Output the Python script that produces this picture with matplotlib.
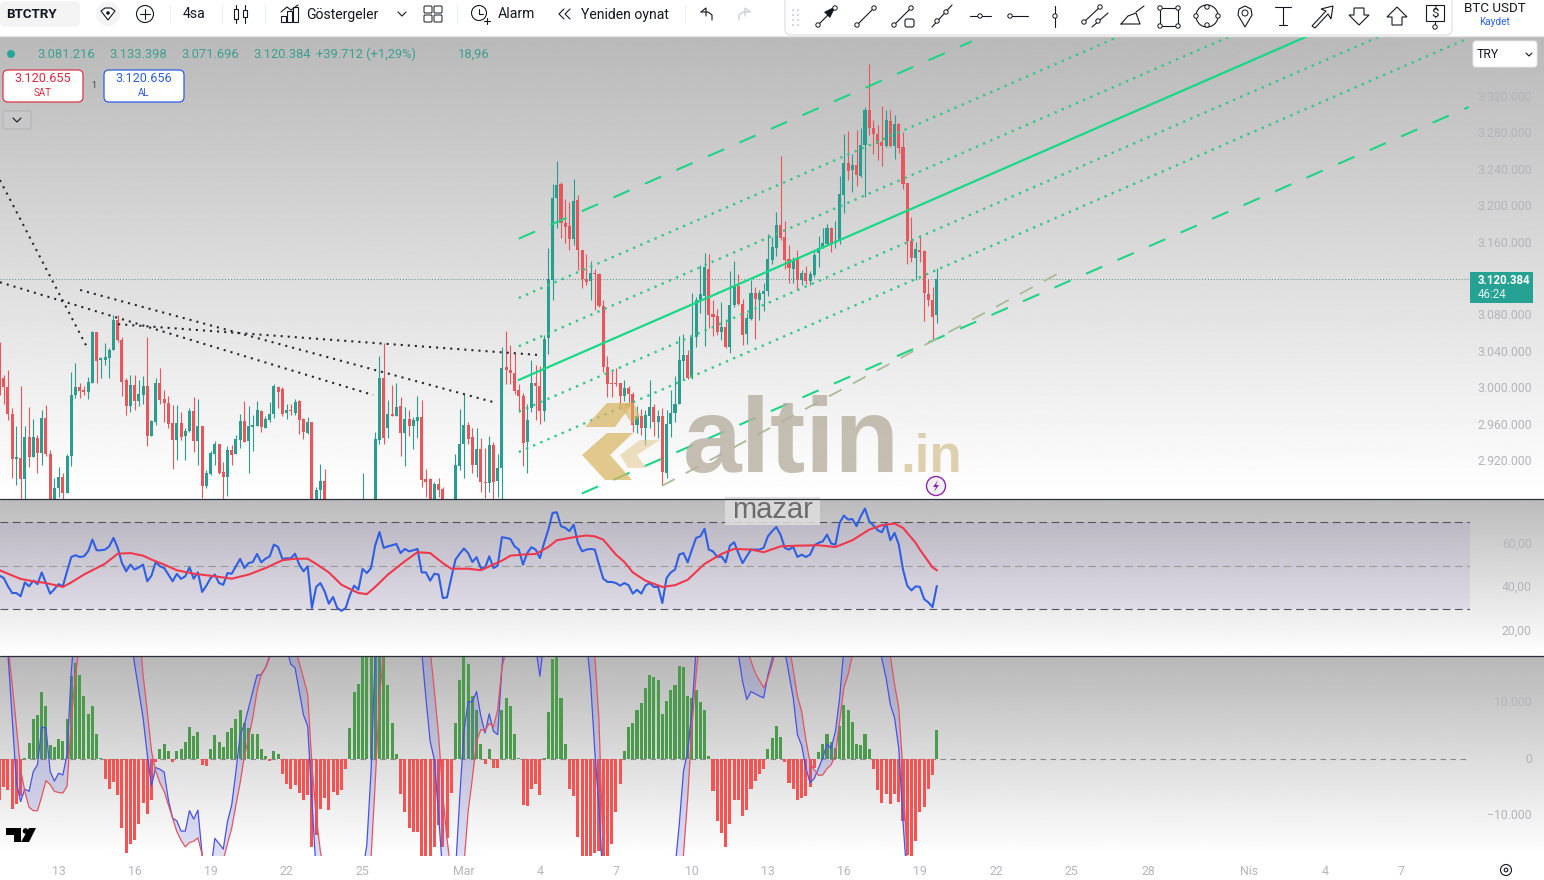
"""
BTCTRY 4h screenshot: candles with channel drawings, RSI pane and MACD pane.
"""
from matplotlib import pyplot as plt
from matplotlib.patches import Circle, FancyBboxPatch, Polygon, Rectangle
import numpy as np

plt.rcParams['font.family'] = ['Roboto', 'DejaVu Sans']

# prices in thousand TRY, one value per bar
candle_open = [
    3023, 3012, 3002, 2973, 2923, 2924, 2901, 2947, 2925, 2946,
    2930, 2968, 2929, 2871, 2891, 2903, 2886, 2926, 2993, 3002,
    2999, 2997, 3007, 3062, 3032, 3032, 3034, 3043, 3076, 3054,
    3010, 2981, 3004, 2987, 2993, 3003, 2948, 2964, 3007, 2989,
    2985, 2963, 2944, 2963, 2948, 2954, 2976, 2943, 2959, 2894,
    2907, 2929, 2940, 2909, 2904, 2933, 2929, 2944, 2965, 2943,
    2958, 2959, 2976, 2957, 2966, 2973, 3002, 3000, 2974, 2977,
    2974, 2987, 2967, 2952, 2964, 2871, 2889, 2899, 2876, 2855,
    2860, 2852, 2845, 2850, 2862, 2850, 2855, 2870, 2862, 2868,
    2944, 3012, 2957, 2973, 2970, 2981, 2952, 2967, 2959, 2965,
    2969, 2901, 2901, 2870, 2896, 2890, 2872, 2860, 2868, 2916,
    2940, 2960, 2947, 2917, 2934, 2898, 2897, 2939, 2899, 2913,
    3024, 3021, 3018, 2999, 2992, 2942, 2979, 3006, 3003, 2976,
    3056, 3119, 3209, 3225, 3182, 3179, 3164, 3207, 3152, 3121,
    3118, 3127, 3126, 3091, 3024, 3006, 3006, 3006, 2992, 3001,
    2994, 2961, 2970, 2957, 2970, 2980, 2964, 2970, 2908, 2962,
    2974, 2984, 3031, 3037, 3012, 3057, 3098, 3102, 3132, 3082,
    3080, 3062, 3068, 3046, 3092, 3113, 3093, 3060, 3077, 3105,
    3098, 3104, 3107, 3141, 3155, 3180, 3167, 3142, 3132, 3142,
    3119, 3127, 3118, 3125, 3149, 3155, 3159, 3176, 3160, 3162,
    3213, 3248, 3240, 3246, 3233, 3267, 3306, 3286, 3280, 3271,
    3266, 3294, 3266, 3290, 3265, 3226, 3162, 3144, 3152, 3151,
    3104, 3097, 3081,
]
candle_high = [
    3052, 3015, 3021, 2979, 2959, 3003, 2959, 2980, 2967, 2950,
    2977, 2982, 2933, 2902, 2914, 2908, 2929, 3019, 3029, 3007,
    3003, 3013, 3063, 3062, 3035, 3050, 3045, 3081, 3081, 3057,
    3012, 3015, 3015, 3010, 3014, 3057, 2966, 3012, 3023, 2999,
    2992, 2982, 2982, 2975, 2957, 2979, 2991, 2989, 2959, 2911,
    2932, 2943, 2940, 2920, 2938, 2939, 2950, 2973, 2987, 2981,
    2971, 2987, 2977, 2970, 2986, 3005, 3003, 3002, 2984, 2984,
    2989, 2988, 2968, 2969, 2964, 2893, 2918, 2912, 2877, 2868,
    2874, 2865, 2858, 2870, 2875, 2868, 2908, 2876, 2875, 2953,
    3036, 3050, 2988, 3004, 3007, 2991, 2980, 2977, 2969, 2992,
    2988, 2912, 2902, 2898, 2902, 2893, 2876, 2875, 2929, 2978,
    2994, 2964, 2957, 2957, 2946, 2935, 2948, 2942, 2929, 3046,
    3063, 3048, 3039, 3006, 2996, 2983, 3032, 3026, 3025, 3059,
    3154, 3225, 3250, 3227, 3208, 3205, 3230, 3213, 3152, 3148,
    3140, 3132, 3127, 3098, 3036, 3021, 3023, 3006, 3010, 3003,
    2997, 2981, 2978, 2977, 3010, 2984, 2977, 2979, 2977, 2999,
    3014, 3058, 3060, 3043, 3105, 3101, 3136, 3149, 3148, 3098,
    3088, 3095, 3074, 3129, 3140, 3126, 3099, 3083, 3119, 3112,
    3108, 3116, 3170, 3167, 3194, 3255, 3184, 3158, 3145, 3152,
    3130, 3135, 3129, 3150, 3168, 3176, 3181, 3177, 3184, 3233,
    3280, 3283, 3258, 3284, 3286, 3309, 3356, 3295, 3289, 3310,
    3306, 3306, 3300, 3292, 3282, 3226, 3189, 3161, 3169, 3152,
    3120, 3112, 3133,
]
candle_low = [
    2993, 2984, 2966, 2902, 2895, 2878, 2878, 2914, 2925, 2908,
    2917, 2926, 2871, 2864, 2882, 2878, 2886, 2916, 2990, 2990,
    2993, 2989, 3007, 3007, 3012, 3026, 3012, 3043, 3052, 2992,
    2971, 2975, 2977, 2981, 2984, 2937, 2948, 2960, 2984, 2964,
    2957, 2912, 2922, 2944, 2922, 2953, 2931, 2917, 2881, 2891,
    2906, 2917, 2907, 2878, 2883, 2917, 2929, 2935, 2942, 2908,
    2932, 2959, 2953, 2957, 2964, 2968, 2979, 2970, 2967, 2971,
    2971, 2951, 2945, 2951, 2871, 2864, 2878, 2864, 2850, 2845,
    2848, 2838, 2835, 2840, 2845, 2842, 2850, 2855, 2850, 2860,
    2940, 2940, 2946, 2970, 2970, 2927, 2916, 2948, 2934, 2946,
    2893, 2882, 2871, 2860, 2882, 2860, 2850, 2845, 2860, 2911,
    2902, 2940, 2908, 2904, 2887, 2880, 2887, 2878, 2882, 2878,
    3006, 3006, 2994, 2975, 2916, 2908, 2975, 2966, 2962, 2965,
    3038, 3098, 3176, 3166, 3160, 3152, 3158, 3130, 3111, 3114,
    3097, 3087, 3090, 3019, 2991, 2991, 3003, 2978, 2987, 2981,
    2953, 2952, 2950, 2939, 2957, 2948, 2946, 2895, 2902, 2947,
    2964, 2984, 3010, 3011, 3011, 3046, 3083, 3047, 3067, 3058,
    3059, 3054, 3045, 3039, 3090, 3092, 3048, 3049, 3076, 3055,
    3076, 3086, 3102, 3137, 3146, 3163, 3132, 3116, 3116, 3108,
    3114, 3115, 3114, 3123, 3134, 3154, 3158, 3150, 3154, 3159,
    3193, 3229, 3216, 3222, 3232, 3210, 3278, 3258, 3251, 3244,
    3265, 3265, 3252, 3259, 3219, 3137, 3139, 3119, 3139, 3074,
    3091, 3054, 3072,
]
candle_close = [
    3012, 3002, 2973, 2923, 2925, 2901, 2947, 2925, 2947, 2930,
    2968, 2929, 2878, 2891, 2903, 2886, 2926, 2993, 3002, 2998,
    2997, 3008, 3062, 3031, 3034, 3035, 3043, 3076, 3054, 3008,
    2981, 3004, 2987, 2994, 3003, 2948, 2965, 3007, 2988, 2985,
    2962, 2944, 2963, 2947, 2954, 2976, 2943, 2959, 2894, 2908,
    2930, 2940, 2908, 2904, 2933, 2928, 2945, 2965, 2942, 2959,
    2960, 2977, 2958, 2967, 2973, 3003, 2997, 2973, 2977, 2976,
    2986, 2966, 2953, 2964, 2875, 2889, 2899, 2878, 2855, 2860,
    2852, 2845, 2850, 2862, 2850, 2860, 2870, 2862, 2868, 2945,
    3012, 2946, 2973, 2970, 2980, 2952, 2967, 2959, 2966, 2969,
    2900, 2898, 2875, 2896, 2889, 2872, 2860, 2868, 2917, 2940,
    2960, 2945, 2917, 2934, 2898, 2897, 2939, 2898, 2913, 3023,
    3021, 3018, 2998, 2992, 2941, 2966, 3006, 3003, 2976, 3055,
    3120, 3209, 3224, 3182, 3178, 3164, 3206, 3152, 3120, 3117,
    3127, 3126, 3091, 3024, 3006, 3005, 3005, 2992, 3001, 2994,
    2961, 2970, 2957, 2972, 2980, 2964, 2970, 2909, 2962, 2974,
    2984, 3032, 3037, 3012, 3057, 3098, 3104, 3134, 3081, 3079,
    3062, 3068, 3046, 3092, 3114, 3093, 3059, 3078, 3105, 3099,
    3105, 3107, 3142, 3156, 3180, 3166, 3141, 3133, 3141, 3119,
    3127, 3118, 3126, 3147, 3155, 3160, 3176, 3159, 3162, 3214,
    3248, 3239, 3246, 3234, 3267, 3306, 3286, 3279, 3269, 3266,
    3295, 3266, 3290, 3264, 3225, 3162, 3144, 3153, 3150, 3105,
    3097, 3079, 3120,
]
rsi_values = [
    45.4, 44.3, 40.5, 37.4, 37.4, 35.9, 42.3, 40.5, 43.1, 41.5,
    46.9, 42.0, 37.1, 39.2, 41.5, 40.5, 47.4, 54.0, 54.8, 54.0,
    54.3, 56.6, 62.0, 57.1, 57.1, 57.4, 58.9, 62.8, 58.2, 51.2,
    47.4, 50.5, 48.2, 49.2, 50.5, 42.8, 45.4, 51.7, 49.7, 48.9,
    45.9, 42.8, 46.2, 43.9, 45.1, 49.2, 44.0, 46.9, 37.9, 40.8,
    44.3, 45.9, 42.0, 41.2, 46.6, 46.3, 49.7, 53.1, 48.9, 51.2,
    51.7, 55.4, 51.5, 53.2, 54.3, 59.7, 58.6, 53.1, 53.4, 53.4,
    55.5, 50.5, 47.4, 49.7, 30.5, 40.2, 42.0, 38.2, 32.5, 35.6,
    30.5, 29.2, 30.5, 36.6, 40.8, 38.9, 48.5, 46.6, 48.9, 59.4,
    65.5, 58.2, 58.9, 59.4, 60.0, 55.8, 57.7, 56.6, 57.1, 57.7,
    46.9, 46.9, 43.1, 46.3, 45.9, 35.1, 35.4, 44.3, 52.8, 55.5,
    57.9, 55.8, 51.7, 53.9, 48.9, 48.9, 54.3, 48.9, 50.0, 63.1,
    62.8, 62.3, 58.9, 57.4, 50.5, 55.8, 58.5, 57.4, 53.5, 60.5,
    66.6, 74.3, 74.6, 68.2, 67.4, 65.9, 68.9, 60.5, 56.6, 57.4,
    57.7, 57.4, 50.5, 44.0, 42.5, 42.5, 42.0, 40.8, 42.0, 41.0,
    37.1, 38.9, 37.1, 40.8, 42.0, 40.2, 40.2, 32.8, 44.3, 46.9,
    48.2, 55.1, 55.8, 51.5, 57.4, 62.8, 63.5, 67.0, 57.4, 56.6,
    54.0, 54.3, 51.5, 59.2, 60.8, 55.8, 51.2, 54.3, 57.4, 57.4,
    57.4, 58.2, 63.5, 65.9, 67.8, 64.3, 58.2, 57.4, 58.6, 54.0,
    55.1, 54.0, 55.1, 59.4, 60.5, 61.2, 64.3, 60.2, 59.7, 69.7,
    73.1, 71.2, 71.5, 68.2, 72.8, 76.3, 70.5, 68.5, 66.3, 65.4,
    69.4, 61.7, 65.1, 59.7, 48.2, 40.8, 38.6, 40.5, 40.2, 34.6,
    33.1, 30.9, 40.5,
]
rsi_ma_bars = [
    1, 3, 6, 9, 12, 16, 18, 21, 24, 26, 29, 32, 35, 37, 40, 43, 47, 52, 56, 60,
    64, 68, 71, 74, 76, 79, 82, 86, 88, 90, 93, 97, 100, 103, 106, 108, 112, 115,
    120, 122, 125, 128, 131, 133, 137, 140, 142, 144, 147, 149, 151, 154, 158,
    161, 164, 168, 172, 175, 179, 182, 186, 190, 195, 199, 203, 207, 210, 213,
    215, 218, 219, 222, 223,
]
rsi_ma_values = [
    47.9, 46.3, 43.9, 42.8, 42.0, 40.2, 42.3, 45.9, 48.9, 50.9, 55.5, 55.8, 54.6,
    52.8, 50.5, 47.9, 46.3, 45.1, 44.0, 45.9, 48.9, 52.5, 53.2, 53.2, 50.8, 46.9,
    41.2, 37.4, 36.9, 40.2, 45.9, 52.0, 56.2, 55.8, 51.2, 48.6, 48.6, 47.9, 52.3,
    54.6, 55.1, 55.4, 58.6, 61.7, 63.1, 63.9, 63.5, 62.0, 55.1, 51.7, 46.9, 43.1,
    40.2, 41.0, 43.5, 50.8, 55.4, 57.7, 57.4, 56.2, 58.9, 59.2, 59.4, 58.6, 61.7,
    66.6, 68.6, 69.4, 67.4, 60.5, 57.4, 49.2, 47.9,
]
hist_values = [
    -7200, -5000, -5500, -8800, -7900, -6600, 100, 2800, 7100, 7800,
    11800, 9300, 2500, 2100, 3600, 3200, 7100, 14600, 16900, 14900,
    11200, 8000, 9300, 4500, 100, -3500, -5300, -4000, -6300, -12100,
    -16500, -15000, -14300, -11400, -7700, -9700, -7200, -500, 1700, 2700,
    1500, -500, 1500, 1700, 3000, 5700, 4100, 4800, -1000, -1300,
    1700, 4300, 3000, 2200, 4800, 5500, 7000, 8700, 6300, 5500,
    4500, 4500, 1700, 500, -400, 1500, 900, -2600, -4400, -5300,
    -4500, -5900, -7300, -6300, -15600, -13400, -8800, -6900, -9000, -5800,
    -6300, -5400, -1700, 5400, 11800, 13200, 19000, 19500, 18000, 20000,
    19000, 19000, 13000, 6300, 900, -6200, -9400, -12100, -12800, -12800,
    -18000, -18500, -18000, -15500, -11600, -15500, -14000, -5900, 6300, 14000,
    19000, 16700, 11100, 8600, 2700, -800, 1700, -1500, -1500, 8600,
    10800, 9400, 4500, 100, -8100, -8300, -5300, -4400, -6400, 100,
    8300, 17600, 19000, 10700, 2700, -5300, -6600, -13700, -18000, -18500,
    -18500, -16500, -16200, -18000, -18000, -15000, -9300, -4400, 1500, 5700,
    6300, 8700, 9900, 12600, 14900, 14500, 14000, 8000, 10300, 12100,
    13000, 16400, 16200, 11200, 10800, 12200, 10100, 8700, 500, -5700,
    -10900, -13000, -15500, -11400, -7200, -7200, -10000, -9000, -5300, -3800,
    -2600, -1700, 1800, 3700, 5900, 3900, -500, -4200, -5300, -7300,
    -6900, -6600, -5000, -1600, 1200, 2700, 4400, 3000, 1900, 5900,
    9600, 8600, 6500, 2700, 2500, 4500, 1700, -1800, -5400, -7700,
    -6100, -7900, -6200, -7600, -11000, -17000, -18000, -14400, -9400, -8400,
    -5300, -2800, 5200,
]
macd_bars = [
    1, 3, 4, 5, 6, 7, 8, 9, 10, 11, 12, 13, 14, 15, 16, 17, 18, 19, 25, 31, 32, 33,
    34, 35, 36, 37, 38, 39, 40, 41, 42, 43, 44, 45, 46, 47, 48, 49, 50, 51, 52, 53,
    54, 55, 56, 57, 58, 59, 60, 61, 62, 63, 64, 65, 66, 68, 69, 70, 71, 72, 73, 74,
    75, 76, 77, 84, 86, 87, 88, 89, 90, 91, 98, 100, 101, 102, 103, 104, 105, 106,
    108, 109, 110, 111, 112, 113, 114, 115, 116, 117, 118, 119, 120, 121, 122, 126,
    128, 129, 130, 131, 136, 140, 141, 142, 143, 144, 146, 155, 160, 161, 162, 163,
    164, 165, 166, 167, 170, 175, 176, 177, 178, 179, 180, 181, 182, 183, 184, 185,
    186, 187, 188, 189, 190, 191, 192, 193, 194, 195, 196, 197, 198, 199, 200, 201,
    202, 208, 210, 211, 212, 213, 214, 215, 216, 217, 223,
]
macd_values = [
    30300, 18500, 7300, -4200, -7500, -5300, -5700, -2200, -1000, 5600, 5500, -2200,
    -3900, -2500, -2800, 800, 15500, 24400, 42000, 27300, 22000, 16700, 12000, 7300,
    800, -4700, -1500, -1800, -2300, -7200, -10400, -10900, -12700, -12700, -9100,
    -10600, -9000, -16900, -19900, -19900, -14000, -14900, -15900, -11000, -8100,
    -2200, 4300, 6100, 9000, 12000, 14800, 14900, 16100, 18200, 22000, 24400, 19600,
    16700, 16100, 12000, 7800, 5800, -7500, -19900, -28700, -34600, -28700, -19900,
    -15200, -2200, 18500, 30300, 48000, 24400, 19000, 10800, 3100, -100, -9900, -20500,
    -28700, -19900, -6900, 4900, 10100, 10100, 11900, 7600, 4600, 8000, 4900, 4300,
    16100, 24400, 33200, 36200, 19600, 14600, 21400, 33200, 36200, 21000, 13700, 1400,
    -8700, -22800, -34600, -46400, -31700, -19300, -11600, -2200, 1400, 8400, 19600,
    27300, 33200, 27300, 18500, 13700, 10500, 11900, 11500, 11100, 10800, 14800, 17600,
    21400, 20800, 19100, 14900, 10800, 4300, 2400, -1600, -4200, -3400, -1600, 200,
    2700, 1900, 4900, 10800, 19600, 24400, 36200, 17600, 14300, 9600, 7300, 1900,
    -11000, -21600, -34600, -40000,
]
signal_bars = [
    1, 3, 4, 5, 6, 7, 8, 9, 10, 11, 12, 13, 14, 15, 16, 17, 18, 19, 20, 25, 33, 35,
    36, 37, 38, 39, 40, 41, 42, 43, 44, 45, 46, 47, 48, 49, 50, 53, 54, 55, 56, 57,
    58, 59, 60, 61, 62, 63, 64, 65, 66, 70, 71, 72, 73, 74, 75, 76, 77, 78, 80, 86,
    88, 89, 90, 91, 92, 93, 100, 102, 103, 104, 105, 106, 107, 108, 110, 111, 112,
    113, 114, 115, 116, 117, 118, 119, 120, 121, 125, 140, 142, 143, 144, 146, 155,
    160, 163, 164, 165, 166, 167, 170, 176, 178, 179, 180, 182, 183, 184, 185, 187,
    189, 190, 191, 192, 193, 194, 195, 196, 197, 198, 199, 200, 201, 202, 203, 205,
    210, 212, 213, 214, 215, 216, 217, 223,
]
signal_values = [
    36200, 20200, 13200, 5800, -1900, -5700, -8500, -9100, -9100, -6600, -3800, -4500,
    -5700, -5900, -6000, -4800, 6700, 14900, 20200, 48000, 33200, 14900, 8400, 1400,
    -2100, -4200, -5700, -8100, -10400, -12800, -14300, -15500, -14700, -14500, -13900,
    -16900, -19600, -21700, -17800, -14900, -12200, -8100, -4200, 500, 3700, 7300,
    12000, 14900, 16100, 17900, 21400, 22000, 19600, 17000, 14300, 11400, -1000, -9900,
    -16300, -19900, -31700, -40500, -25800, -17500, -4000, 10800, 19100, 30300, 42000,
    20200, 19400, 12000, 4300, -6300, -14000, -20500, -25800, -18700, -9300, -3400,
    3100, 5200, 5000, 6300, 5700, 8700, 16100, 19100, 36200, 36200, 18500, 6700, -16900,
    -34600, -46400, -34600, -16900, -6900, 5500, 14900, 22000, 36200, 30300, 19600,
    17300, 15200, 12600, 14300, 16700, 19600, 24400, 15800, 11100, 8400, 3400, -700,
    -1900, -2900, -2800, -1700, -1000, 800, 6700, 12600, 14900, 18200, 24400, 30300,
    18200, 13200, 9000, -2200, -18100, -34600, -40500,
]

# bar number of each time label on the bottom axis
time_tick_bars = [15, 33, 51, 69, 87, 111, 129, 147, 165, 183, 201, 219, 237, 255, 273, 297, 315, 333]
time_tick_labels = ['13', '16', '19', '22', '25', 'Mar', '4', '7', '10', '13', '16', '19', '22', '25', '28', 'Nis', '4', '7']
# 3.120.000 sits under the last price tag in the screenshot
price_ticks = [2920, 2960, 3000, 3040, 3080, 3160, 3200, 3240, 3280, 3320]
rsi_ticks = [20, 40, 60]
macd_ticks = [-10000, 0, 10000]
last_price = 3120.384

# channel drawings: bar 124 to bar 349, price at the left end and the right end
channel_start_bar = 124
channel_end_bar = 349
channel_upper = (3164.8, 3618.6)
channel_inner_up = (3099.7, 3553.5)
channel_mid_up = (3046.8, 3500.6)
channel_median = (3009.9, 3463.7)
channel_mid_down = (2975.2, 3429.0)
channel_inner_down = (2930.9, 3384.7)
channel_lower = (2855.3, 3309.1)

TEAL = '#2a9d8f'
RED = '#e8555a'
INK = '#131722'
AXIS_TEXT = '#b4b4ba'


def pane(top, bottom):
    ax = fig.add_axes([0, 1 - bottom / 880, 1470 / 1544, (bottom - top) / 880])
    ax.patch.set_alpha(0)
    ax.set_xlim(1.118, 349.3)
    for side in ax.spines.values():
        side.set_visible(False)
    ax.tick_params(axis='y', left=False, labelleft=False, right=True, labelright=True,
                   length=0, pad=44.5, labelcolor=AXIS_TEXT, labelsize=8.8)
    ax.tick_params(axis='x', length=0, labelbottom=False)
    return ax


def right_align(ax):
    for tick_label in ax.get_yticklabels():
        tick_label.set_ha('right')
        tick_label.set_va('center')


def dotted(value):
    return f'{value:,.0f}'.replace(',', '.')


fig = plt.figure(figsize=(15.44, 8.8), dpi=100, facecolor='white')

# screenshot background gradients
bg = fig.add_axes([0, 0, 1, 1], zorder=-1)
for top, bottom, shade in [(37, 495, 185), (499, 656, 187), (657, 855, 184)]:
    ramp = np.linspace(shade, 255, 256)[:, None]
    bg.imshow(ramp, extent=[0, 1544, bottom, top], cmap='gray', vmin=0, vmax=255, aspect='auto')
bg.set_xlim(0, 1544)
bg.set_ylim(880, 0)
bg.axis('off')

# price pane
bars = np.arange(1, len(candle_open) + 1)
opens, highs, lows, closes = map(np.array, (candle_open, candle_high, candle_low, candle_close))
ax_price = pane(37, 499)
colors = np.where(closes >= opens, TEAL, RED)
ax_price.vlines(bars, lows, highs, colors=colors, lw=0.8, zorder=2)
ax_price.bar(bars, np.maximum(np.abs(closes - opens), 1), bottom=np.minimum(opens, closes),
             width=0.72, color=colors, zorder=3)
ax_price.axhline(last_price, color='#4d8f85', lw=0.7, ls=(0, (1, 2)), zorder=1)

channel_x = [channel_start_bar, channel_end_bar]
for ends in (channel_inner_up, channel_mid_up, channel_mid_down, channel_inner_down):
    ax_price.plot(channel_x, ends, color='#33c888', lw=1.7, ls=(0, (1, 2.3)), zorder=4)
ax_price.plot(channel_x, channel_median, color='#17d985', lw=1.6, zorder=4)
ax_price.plot(channel_x, channel_lower, color='#1fd485', lw=1.5, ls=(0, (8.5, 8)), zorder=4)
ax_price.plot([channel_start_bar, 231.3], [channel_upper[0], 3381], color='#1fd485', lw=1.5,
              ls=(0, (8.5, 8)), zorder=4)
ax_price.plot([157.9, 251.5], [2893.7, 3126], color='#a9bb97', lw=1.3, ls=(0, (8, 7)), zorder=4)

for line_x, line_y in [([1.1, 21.7], [3229, 3046]), ([1.1, 89.5], [3117, 2993.4]),
                       ([20.1, 117.9], [3108.5, 2985.7]), ([29.1, 128.5], [3071, 3037.3])]:
    ax_price.plot(line_x, line_y, color='#26282e', lw=1.5, ls=(0, (1, 2.4)), zorder=4)

ax_price.set_ylim(2879.4, 3385.8)
ax_price.set_yticks(price_ticks, [dotted(p * 1000) for p in price_ticks])
right_align(ax_price)

# RSI pane
ax_rsi = pane(499, 656)
ax_rsi.axhspan(30, 70, color='#7e57c2', alpha=0.1, lw=0, zorder=1)
ax_rsi.axhline(70, color='#555555', lw=0.8, ls=(0, (7, 4)), zorder=2)
ax_rsi.axhline(50, color='#999999', lw=0.8, ls=(0, (7, 4)), zorder=2)
ax_rsi.axhline(30, color='#555555', lw=0.8, ls=(0, (7, 4)), zorder=2)
ax_rsi.plot(bars, rsi_values, color='#2f5fe3', lw=1.5, zorder=3)
ax_rsi.plot(rsi_ma_bars, rsi_ma_values, color='#f0384c', lw=1.5, zorder=4)
ax_rsi.set_ylim(8.4, 80.7)
ax_rsi.set_yticks(rsi_ticks, [f'{v},00' for v in rsi_ticks])
right_align(ax_rsi)

# MACD pane
ax_macd = pane(657, 856)
hist = np.array(hist_values)
ax_macd.axhline(0, color='#8a8a8a', lw=0.8, ls=(0, (5, 4)), zorder=1)
ax_macd.bar(bars, hist, width=0.72, color=np.where(hist >= 0, '#4c9a4c', '#f75252'), zorder=2)
ax_macd.fill(np.r_[macd_bars, signal_bars[::-1]], np.r_[macd_values, signal_values[::-1]],
             color='#5a5fd8', alpha=0.2, lw=0, zorder=3)
ax_macd.plot(macd_bars, macd_values, color='#4a52e0', lw=0.9, zorder=4)
ax_macd.plot(signal_bars, signal_values, color='#e0555f', lw=0.9, zorder=4)
ax_macd.set_ylim(-17100, 18000)
ax_macd.set_yticks(macd_ticks, [dotted(v).replace('-', '\u2212') for v in macd_ticks])
right_align(ax_macd)
ax_macd.set_xticks(time_tick_bars, time_tick_labels)
ax_macd.tick_params(axis='x', labelbottom=True, labelcolor=AXIS_TEXT, labelsize=8.8, pad=6.2)

# interface layer drawn in screen pixels
ui = fig.add_axes([0, 0, 1, 1], zorder=10)
ui.patch.set_alpha(0)
ui.set_xlim(0, 1544)
ui.set_ylim(880, 0)
ui.axis('off')


def label(x, y, text, size=9.4, color=INK, ha='left', **kw):
    ui.text(x, y, text, fontsize=size, color=color, ha=ha, va='center', **kw)


def stroke(xs, ys, color=INK, lw=0.8, **kw):
    ui.plot(xs, ys, color=color, lw=lw, solid_capstyle='round', **kw)


def knob(x, y, r=2.2):
    ui.add_patch(Circle((x, y), r, fc='white', ec=INK, lw=0.7, zorder=6))


def rounded(x0, y0, x1, y1, fc='white', ec='none', lw=1, pad=3, **kw):
    ui.add_patch(FancyBboxPatch((x0 + pad, y0 + pad), x1 - x0 - 2 * pad, y1 - y0 - 2 * pad,
                                boxstyle=f'round,pad={pad}', fc=fc, ec=ec, lw=lw, **kw))


# watermark
for points, shade, alpha in [([(585, 427), (607, 403), (633, 403), (615, 427)], '#d8b562', 0.72),
                             ([(618, 403), (634, 403), (640, 416), (632, 424)], '#d8b562', 0.6),
                             ([(582, 455), (607, 433), (633, 433), (610, 455), (632, 480), (605, 480)], '#d8b562', 0.72),
                             ([(620, 455), (640, 440), (660, 440), (637, 455), (646, 468), (628, 468)], '#e3cc96', 0.6)]:
    ui.add_patch(Polygon(points, closed=True, fc=shade, ec='none', alpha=alpha, zorder=2))
ui.text(683, 472, 'altin', fontsize=76, fontweight='bold', family='Liberation Sans', color='#b7b0a0',
        alpha=0.8, ha='left', va='baseline', zorder=2)
ui.text(900, 472, '.in', fontsize=38, fontweight='bold', family='Liberation Sans', color='#d9cca6',
        alpha=0.9, ha='left', va='baseline', zorder=2)
ui.add_patch(Rectangle((725, 497), 95, 28, fc='#dedede', ec='none', alpha=0.85, zorder=2))
ui.text(772.5, 510, 'mazar', fontsize=21, family='Liberation Sans', color='#6c6c6c', ha='center', va='center', zorder=3)

# pane separators and corner marks
stroke([0, 1544], [499, 499], color='#2a2e39', lw=0.9)
stroke([0, 1544], [656.5, 656.5], color='#2a2e39', lw=0.9)
ui.add_patch(Circle((936, 486), 9.5, fc='#f3f0f5', ec='#8e24aa', lw=1))
ui.add_patch(Polygon([(938, 480), (933, 487), (936, 487), (934, 492), (939, 485), (936, 485)], fc='#8e24aa', ec='none'))
ui.add_patch(Polygon([(6, 828), (21, 828), (21, 842), (14, 842), (14, 835), (6, 835)], fc='black', ec='none'))
ui.add_patch(Circle((25.5, 831), 2.8, fc='black', ec='none'))
ui.add_patch(Polygon([(29, 828), (36, 828), (29, 842), (21, 842)], fc='black', ec='none'))
ui.add_patch(Circle((1506, 870), 5.5, fc='white', ec=INK, lw=0.8))
ui.add_patch(Circle((1506, 870), 1.8, fc='white', ec=INK, lw=0.8))

# top toolbar
ui.add_patch(Rectangle((0, 0), 1544, 36, fc='white', ec='none', zorder=0))
stroke([0, 1544], [36.5, 36.5], color='#e6e6e6', lw=1)
rounded(0, 1, 80, 27, fc='#f4f4f4', pad=6)
label(6, 14.5, 'BTCTRY', size=9.6, fontweight='bold')
ui.add_patch(Circle((108, 14), 12, fc='#f4f4f4', ec='none'))
ui.add_patch(Polygon([(101, 11), (105, 8), (111, 8), (115, 11), (108, 20)], fc='white', ec=INK, lw=0.8))
ui.add_patch(Circle((108, 13), 1.8, fc=INK, ec='none'))
ui.add_patch(Circle((145, 14), 8.5, fc='white', ec=INK, lw=0.8))
stroke([140, 150], [14, 14])
stroke([145, 145], [9, 19])
label(183, 14.5, '4sa', size=10.1)
stroke([236, 236], [5, 23])
ui.add_patch(Rectangle((234, 9), 4, 10, fc='white', ec=INK, lw=0.8, zorder=5))
stroke([245, 245], [5, 23])
ui.add_patch(Rectangle((243, 10), 4, 7, fc='white', ec=INK, lw=0.8, zorder=5))
for bar_x, bar_h in [(281, 6), (287, 11), (293, 15)]:
    ui.add_patch(Rectangle((bar_x, 22 - bar_h), 5, bar_h, fc='white', ec=INK, lw=0.8))
stroke([281, 287, 291, 298], [12, 7, 10, 5])
label(306, 14.5, 'Göstergeler', size=10.1)
stroke([398, 402, 406], [12, 16, 12])
for sq_x, sq_y in [(425, 7), (435, 7), (425, 16), (435, 16)]:
    ui.add_patch(FancyBboxPatch((sq_x, sq_y), 6, 5, boxstyle='round,pad=1', fc='white', ec=INK, lw=0.7))
ui.add_patch(Circle((479, 13), 7.5, fc='white', ec=INK, lw=0.8))
stroke([479, 479, 483], [9, 14, 14])
stroke([484, 490], [21, 21])
stroke([487, 487], [18, 24])
label(498, 14.5, 'Alarm', size=10.1)
stroke([564, 559, 564], [9, 14, 19])
stroke([570, 565, 570], [9, 14, 19])
label(581, 14.5, 'Yeniden oynat', size=10.1)
stroke([701, 706, 706], [12, 8, 16])
stroke([701, 708, 712, 712], [12, 12, 15, 20])
stroke([750, 745, 745], [12, 8, 16], color='#c4c7cf')
stroke([750, 743, 739, 739], [12, 12, 15, 20], color='#c4c7cf')
for sep_x in (170, 222, 265, 457, 685):
    stroke([sep_x, sep_x], [5, 23], color='#eceef2', lw=0.8)

# drawing toolbar
rounded(785, -8, 1452, 35, fc='white', ec='#dddddd', lw=0.8, pad=6)
for grip_x in (793, 798):
    for grip_y in (10, 15, 20, 25):
        ui.add_patch(Circle((grip_x, grip_y), 0.9, fc='#c0c3c9', ec='none'))
stroke([818, 835], [25, 8])
ui.add_patch(Polygon([(836, 6), (830, 18), (824, 12)], fc=INK, ec='none', zorder=5))
knob(818, 25)
knob(835, 8)
stroke([857, 874], [25, 8])
knob(857, 25)
knob(874, 8)
stroke([894, 911], [25, 8])
knob(894, 25)
knob(911, 8)
rounded(905, 19, 914, 27, fc='white', ec=INK, lw=0.8, pad=2)
stroke([932, 952], [27, 5])
knob(937, 21)
knob(946, 12)
stroke([970, 991], [16, 16])
knob(980, 16)
stroke([1009, 1028], [16, 16])
knob(1010, 16)
stroke([1055, 1055], [6, 27])
knob(1055, 16)
stroke([1084, 1100], [22, 7])
knob(1084, 22)
knob(1100, 7)
stroke([1092, 1108], [27, 13])
knob(1098, 21)
stroke([1121, 1128, 1136, 1140, 1121], [24, 16, 13, 24, 24])
stroke([1136, 1144], [12, 6])
ui.add_patch(Rectangle((1160, 8), 18, 18, fc='white', ec=INK, lw=0.8))
for knob_x, knob_y in [(1160, 8), (1178, 8), (1160, 26), (1178, 26)]:
    knob(knob_x, knob_y)
ui.add_patch(Circle((1207, 16), 11, fc='white', ec=INK, lw=0.8))
for knob_x, knob_y in [(1196, 16), (1218, 16), (1207, 7), (1207, 25)]:
    knob(knob_x, knob_y)
ui.add_patch(Polygon([(1245, 27), (1238, 15), (1239, 9), (1245, 6), (1251, 9), (1252, 15)], fc='white', ec=INK, lw=0.8))
knob(1245, 13, 3)
stroke([1275, 1291], [7, 7])
stroke([1283, 1283], [7, 25])
stroke([1279, 1287], [25, 25])
ui.add_patch(Polygon([(1312, 26), (1326, 11), (1321, 9), (1333, 6), (1331, 19), (1328, 14), (1315, 28)], fc='white', ec=INK, lw=0.8))
ui.add_patch(Polygon([(1354, 8), (1364, 8), (1364, 15), (1369, 15), (1359, 25), (1349, 15), (1354, 15)], fc='white', ec=INK, lw=0.8))
ui.add_patch(Polygon([(1392, 25), (1402, 25), (1402, 17), (1407, 17), (1397, 7), (1387, 17), (1392, 17)], fc='white', ec=INK, lw=0.8))
ui.add_patch(Rectangle((1426, 5), 18, 16, fc='white', ec=INK, lw=0.8))
label(1435, 13, '$', size=9.5, ha='center')
stroke([1435, 1435], [21, 25])
knob(1435, 27)
label(1464, 9, 'BTC USDT', size=9.6)
label(1479, 22, 'Kaydet', size=7.2, color='#2962ff')

# legend row and order buttons
ui.add_patch(Circle((11, 54), 4, fc='#26a69a', ec='none'))
for text_x, text in [(37, '3.081.216'), (109, '3.133.398'), (181, '3.071.696'), (253, '3.120.384'),
                     (316, '+39.712 (+1,29%)'), (458, '18,96')]:
    label(text_x, 54, text, size=9.3, color='#3aa090')
rounded(3, 70, 83, 102, fc='white', ec='#e0354a', lw=0.9, pad=5)
label(43, 79, '3.120.655', size=9.1, color='#d9293e', ha='center')
label(43, 93, 'SAT', size=7, color='#d9293e', ha='center')
label(94, 86, '1', size=6.5, color='#444444', ha='center')
rounded(104, 70, 184, 102, fc='white', ec='#2e5ce6', lw=0.9, pad=5)
label(144, 79, '3.120.656', size=9.1, color='#2e5ce6', ha='center')
label(144, 93, 'AL', size=7, color='#2e5ce6', ha='center')
rounded(3, 111, 31, 129, fc='#c8c8c8', ec='#b0b0b0', lw=0.7, pad=2)
stroke([13, 17, 21], [118, 122, 118])

rounded(1473, 41, 1537, 67, fc='white', ec='#e8e8e8', lw=0.7, pad=3)
label(1477, 54, 'TRY', size=8.8)
stroke([1526, 1529, 1532], [53, 56, 53])

# last price tag
ui.add_patch(Rectangle((1470, 272), 63, 31, fc='#26a294', ec='none'))
label(1478, 281, '3.120.384', size=8.3, color='white', fontweight='bold')
label(1478, 295, '46:24', size=8.4, color='#dff5f1')

fig.savefig('out.png', dpi=100, facecolor='white')
